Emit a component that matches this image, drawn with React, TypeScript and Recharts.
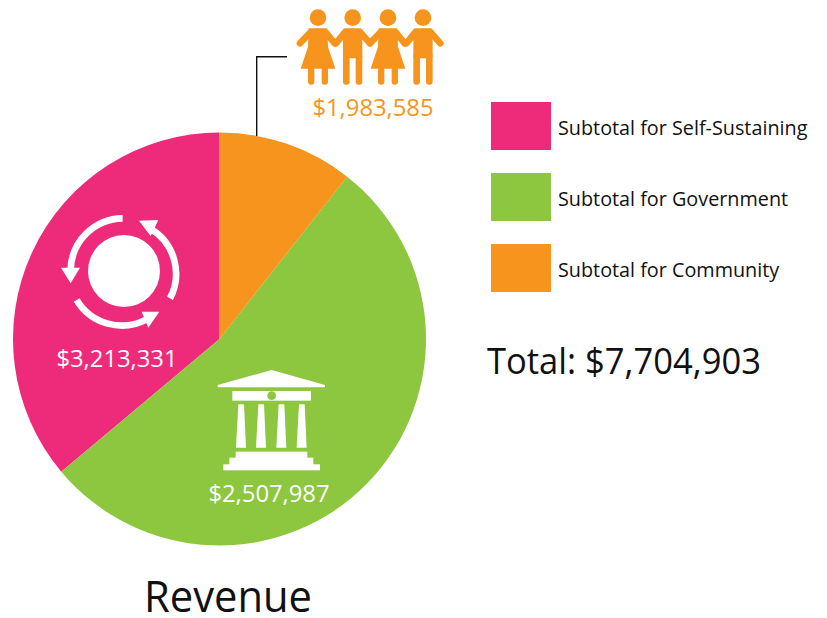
import React from "react"
import { Legend, Pie, PieChart, Cell } from "recharts"

const categories = ["Subtotal for Self-Sustaining", "Subtotal for Government", "Subtotal for Community"]
// share of the circle as drawn, in percent
const sliceShares = [36.1, 53.3, 10.6]
const amountLabels = ["$3,213,331", "$2,507,987", "$1,983,585"]
const colors = ["#EE2A7B", "#8DC63F", "#F7941E"]
const totalLabel = "Total: $7,704,903"
const chartTitle = "Revenue"

const data = categories.map((name, i) => ({ name, value: sliceShares[i] }))

const FONT = "'Open Sans', sans-serif"
const ORANGE = colors[2]
const GREEN = colors[1]

function Arm({ x1, x2 }: { x1: number; x2: number }) {
  return <line x1={x1} y1={98} x2={x2} y2={130} stroke={ORANGE} strokeWidth={20} strokeLinecap="round" />
}

function Girl({ cx }: { cx: number }) {
  return (
    <g fill={ORANGE}>
      <circle cx={cx} cy={53} r={25} />
      <Arm x1={cx - 24} x2={cx - 54} />
      <Arm x1={cx + 24} x2={cx + 50} />
      <path d={`M${cx - 28} 85 H${cx + 28} L${cx + 30} 140 L${cx + 52} 206 H${cx - 52} L${cx - 30} 140 Z`} />
      <rect x={cx - 30} y={200} width={19} height={54} rx={9} />
      <rect x={cx + 11} y={200} width={19} height={54} rx={9} />
    </g>
  )
}

function Boy({ cx }: { cx: number }) {
  return (
    <g fill={ORANGE}>
      <circle cx={cx} cy={53} r={25} />
      <Arm x1={cx - 24} x2={cx - 50} />
      <Arm x1={cx + 24} x2={cx + 52} />
      <rect x={cx - 29} y={85} width={58} height={90} rx={6} />
      <rect x={cx - 29} y={160} width={20} height={94} rx={9} />
      <rect x={cx + 9} y={160} width={20} height={94} rx={9} />
    </g>
  )
}

function PeopleIcon() {
  return (
    <g transform="translate(250,0) scale(0.3333)">
      <Girl cx={204} />
      <Boy cx={308} />
      <Girl cx={414} />
      <Boy cx={519} />
    </g>
  )
}

function CycleIcon() {
  const arc = { fill: "none", stroke: "#fff", strokeWidth: 20 }
  return (
    <g transform="translate(40,200) scale(0.3333)">
      <circle cx={252} cy={213} r={108} fill="#fff" />
      <path d="M248 55 A158 158 0 0 0 92 210" {...arc} />
      <path d="M390 295 A158 158 0 0 0 330 85" {...arc} />
      <path d="M110 300 A158 158 0 0 0 320 358" {...arc} />
      <polygon points="63,203 120,203 92,250" fill="#fff" />
      <polygon points="297,62 355,60 332,108" fill="#fff" />
      <polygon points="305,335 358,335 325,383" fill="#fff" />
    </g>
  )
}

function BuildingIcon() {
  const columns = [123, 183, 244, 305]
  return (
    <g transform="translate(200,360) scale(0.3333)" fill="#fff">
      <polygon points="53,75 215,30 375,75 375,82 53,82" />
      <rect x={97} y={93} width={236} height={29} />
      <circle cx={215} cy={107} r={13} fill={GREEN} />
      {columns.map((c) => (
        <polygon key={c} points={`${c - 8},133 ${c + 9},133 ${c + 15},263 ${c - 15},263`} />
      ))}
      <rect x={107} y={275} width={215} height={20} />
      <rect x={88} y={293} width={252} height={22} />
      <rect x={70} y={313} width={290} height={18} />
    </g>
  )
}

function LegendContent({ payload }: any) {
  return (
    <div style={{ position: "relative", width: 330, height: 190 }}>
      {(payload || []).map((entry: any, i: number) => (
        <div key={entry.value} style={{ position: "absolute", left: 0, top: i * 71, display: "flex", alignItems: "center", height: 48 }}>
          <div style={{ width: 60, height: 48, background: entry.color }} />
          <span style={{ marginLeft: 7, marginTop: 2, fontFamily: FONT, fontSize: 19.8, color: "#111", whiteSpace: "nowrap" }}>
            {entry.value}
          </span>
        </div>
      ))}
    </div>
  )
}

export default function App() {
  return (
    <div style={{ position: "absolute", left: 0, top: 0, width: 827, height: 618, background: "#fff", overflow: "hidden" }}>
      <PieChart width={827} height={618} margin={{ top: 0, right: 0, bottom: 0, left: 0 }}>
        <Pie
          data={data}
          dataKey="value"
          nameKey="name"
          cx={219.5}
          cy={339}
          outerRadius={206.5}
          startAngle={90}
          endAngle={450}
          stroke="none"
          label={false}
          labelLine={false}
          isAnimationActive={false}
        >
          {data.map((d, i) => (
            <Cell key={d.name} fill={colors[i]} />
          ))}
        </Pie>
        <Legend
          content={<LegendContent />}
          layout="vertical"
          itemSorter={null}
          wrapperStyle={{ position: "absolute", left: 491, top: 102, width: 330, height: 190 }}
        />
      </PieChart>
      {/* icons and labels sit on top of the pie */}
      <svg width={827} height={618} style={{ position: "absolute", left: 0, top: 0, pointerEvents: "none" }}>
        <path d="M287 56.7 H256.7 V136" fill="none" stroke="#111" strokeWidth={1.4} />
        <PeopleIcon />
        <CycleIcon />
        <BuildingIcon />
        <g fontFamily={FONT} fontSize={23.8} textAnchor="middle">
          <text x={117} y={367} fill="#fff">{amountLabels[0]}</text>
          <text x={269} y={502} fill="#fff">{amountLabels[1]}</text>
          <text x={373} y={116} fill={ORANGE}>{amountLabels[2]}</text>
        </g>
        <text x={487} y={374} fontFamily={FONT} fontSize={36} fill="#111" textLength={274} lengthAdjust="spacingAndGlyphs">{totalLabel}</text>
        <text x={144} y={612} fontFamily={FONT} fontSize={44} fill="#111" textLength={168} lengthAdjust="spacingAndGlyphs">{chartTitle}</text>
      </svg>
    </div>
  )
}
